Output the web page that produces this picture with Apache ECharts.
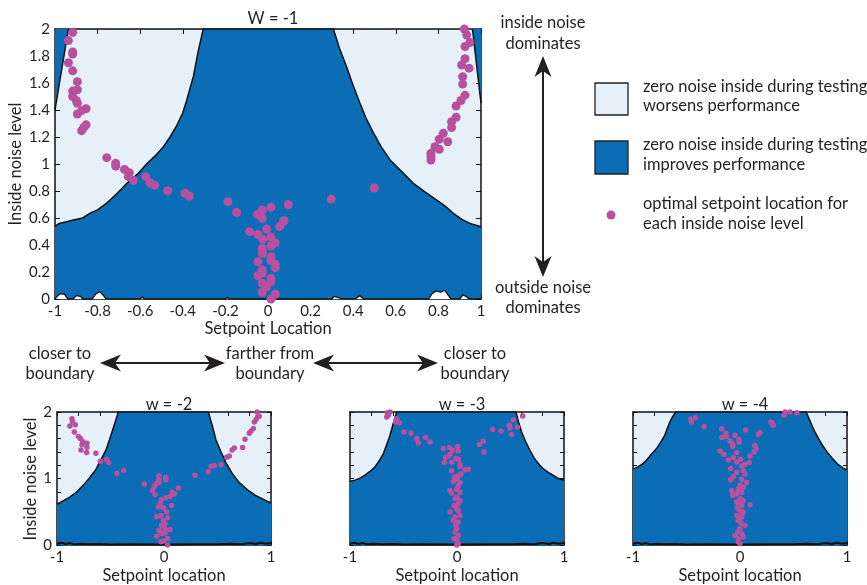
<!DOCTYPE html>
<html><head><meta charset="utf-8">
<script src="https://cdn.jsdelivr.net/npm/echarts@6/dist/echarts.min.js"></script>
<style>html,body{margin:0;padding:0;background:#fff}#c{width:867px;height:585px}</style>
</head><body><div id="c"></div>
<script>
// ---------- data ----------
const titles = ['W = -1', 'w = -2', 'w = -3', 'w = -4'];
const xName = ['Setpoint Location', 'Setpoint location', 'Setpoint location', 'Setpoint location'];
const yName = 'Inside noise level';

// boundary of the "improves performance" region (x, inside noise level)
const boundaryW1 = [[-1,0.54],[-0.98,0.56],[-0.95,0.57],[-0.914,0.585],[-0.87,0.60],[-0.836,0.635],[-0.80,0.66],[-0.757,0.71],[-0.71,0.78],[-0.66,0.86],[-0.61,0.93],[-0.57,1.0],[-0.53,1.06],[-0.49,1.13],[-0.46,1.2],[-0.43,1.28],[-0.40,1.38],[-0.382,1.47],[-0.35,1.65],[-0.327,1.84],[-0.304,2],
  [0.307,2],[0.335,1.86],[0.369,1.72],[0.40,1.58],[0.432,1.45],[0.46,1.34],[0.495,1.23],[0.53,1.13],[0.573,1.03],[0.63,0.94],[0.682,0.857],[0.74,0.79],[0.792,0.733],[0.83,0.69],[0.87,0.635],[0.91,0.59],[0.948,0.56],[1,0.535]];
const stripLeftW1 = [[-1,1.4],[-0.937,2]];
const stripRightW1 = [[0.96,2],[1,1.45]];
const bottomBlobsW1 = [[-1,0],[-0.99,0.02],[-0.975,0.04],[-0.955,0.035],[-0.94,0],[-0.915,0],[-0.9,0.025],[-0.88,0.02],[-0.87,0],[-0.825,0],[-0.81,0.035],[-0.79,0.055],[-0.775,0.03],[-0.76,0],[-0.6,0],[-0.59,0.015],[-0.58,0],[-0.2,0],[-0.19,0.012],[-0.18,0],[0.3,0],[0.31,0.02],[0.33,0.01],[0.35,0],[0.41,0],[0.43,0.025],[0.45,0],[0.755,0],[0.77,0.04],[0.79,0.06],[0.81,0.05],[0.83,0.065],[0.845,0.03],[0.86,0],[0.9,0],[0.915,0.03],[0.93,0.02],[0.945,0],[1,0]];

const boundaryW2 = [[-1,0.617],[-0.978,0.632],[-0.935,0.67],[-0.885,0.716],[-0.82,0.79],[-0.76,0.889],[-0.70,1.0],[-0.636,1.136],[-0.59,1.28],[-0.542,1.43],[-0.51,1.58],[-0.48,1.73],[-0.45,1.88],[-0.427,2],
  [0.414,2],[0.45,1.8],[0.486,1.58],[0.53,1.41],[0.579,1.235],[0.64,1.07],[0.704,0.938],[0.78,0.83],[0.86,0.74],[0.953,0.667],[1,0.632]];
const boundaryW3 = [[-1,0.96],[-0.953,0.975],[-0.90,1.01],[-0.86,1.05],[-0.81,1.11],[-0.766,1.175],[-0.726,1.27],[-0.688,1.375],[-0.655,1.52],[-0.626,1.65],[-0.595,1.83],[-0.564,2],
  [0.551,2],[0.575,1.85],[0.604,1.70],[0.64,1.56],[0.682,1.425],[0.72,1.31],[0.76,1.225],[0.81,1.14],[0.869,1.075],[0.947,1.0],[1,0.975]];
const boundaryW4 = [[-1,1.14],[-0.953,1.175],[-0.91,1.22],[-0.875,1.275],[-0.83,1.36],[-0.78,1.45],[-0.74,1.55],[-0.703,1.65],[-0.68,1.75],[-0.656,1.85],[-0.63,1.93],[-0.6,2],
  [0.619,2],[0.645,1.90],[0.672,1.80],[0.70,1.70],[0.734,1.60],[0.77,1.50],[0.813,1.40],[0.86,1.31],[0.906,1.225],[0.969,1.15],[1,1.125]];
const bottomNoise = [[-1,0.02],[-0.96,0.035],[-0.92,0.015],[-0.88,0.03],[-0.84,0.01],[-0.78,0.02],[-0.7,0.01],[-0.6,0.015],[-0.5,0.008],[-0.3,0.01],[0,0.008],[0.3,0.01],[0.5,0.012],[0.62,0.02],[0.72,0.012],[0.8,0.03],[0.86,0.015],[0.9,0.035],[0.95,0.02],[1,0.03]];

// optimal setpoint locations
const pointsW1 = [[-0.917,1.975],[-0.937,1.914],[-0.917,1.83],[-0.917,1.815],[-0.937,1.75],[-0.917,1.69],[-0.895,1.61],[-0.895,1.55],[-0.917,1.54],[-0.917,1.50],[-0.90,1.47],[-0.895,1.45],[-0.854,1.41],[-0.875,1.395],[-0.895,1.37],[-0.854,1.29],[-0.865,1.27],[-0.875,1.247],
  [-0.757,1.047],[-0.715,1.005],[-0.715,0.985],[-0.674,0.96],[-0.651,0.936],[-0.656,0.906],[-0.632,0.88],
  [-0.574,0.906],[-0.554,0.862],[-0.532,0.842],[-0.471,0.802],[-0.39,0.783],[-0.369,0.763],
  [-0.188,0.721],[-0.147,0.642],[-0.086,0.499],
  [-0.049,0.625],[-0.027,0.659],[-0.027,0.598],[0.014,0.679],[0.095,0.70],[-0.006,0.518],[0.075,0.58],[0.072,0.573],[0.055,0.536],
  [-0.047,0.479],[-0.025,0.442],[0.014,0.457],[0.034,0.417],[0.014,0.393],[-0.027,0.375],[-0.027,0.338],[-0.027,0.355],[0.014,0.313],[0.014,0.284],[-0.047,0.276],[0.034,0.257],[0.034,0.232],[-0.027,0.215],[-0.027,0.19],[-0.047,0.173],[0.014,0.153],[0.014,0.128],[-0.027,0.116],[-0.006,0.091],[-0.027,0.05],[0.034,0.035],[0.014,0],
  [0.297,0.74],[0.499,0.822],
  [0.922,2.0],[0.933,1.955],[0.948,1.90],[0.925,1.87],[0.925,1.78],[0.909,1.733],[0.944,1.71],[0.914,1.647],[0.914,1.593],[0.925,1.51],[0.906,1.47],[0.883,1.43],[0.883,1.346],[0.862,1.313],[0.862,1.27],[0.823,1.227],[0.804,1.183],[0.844,1.165],[0.784,1.128],[0.804,1.109],[0.765,1.079],[0.765,1.055],[0.765,1.03]];

const pointsW2 = [[-0.86,1.90],[-0.854,1.85],[-0.879,1.79],[-0.829,1.81],[-0.838,1.70],[-0.80,1.63],[-0.782,1.60],[-0.76,1.556],[-0.72,1.53],[-0.766,1.506],[-0.72,1.47],[-0.776,1.43],[-0.723,1.39],[-0.636,1.38],[-0.595,1.26],[-0.536,1.284],[-0.517,1.235],[-0.44,1.077],[-0.377,1.12],[-0.184,0.918],
  [-0.047,1.04],[-0.047,0.99],[-0.047,0.94],[0.016,1.018],[0.016,0.98],[-0.068,0.93],[-0.09,0.88],[-0.109,0.82],[-0.084,0.76],
  [0.134,0.858],[0.078,0.794],[0.096,0.77],[0.056,0.73],[0.072,0.594],
  [0.016,0.709],[-0.022,0.68],[-0.037,0.62],[-0.006,0.56],[-0.053,0.57],[0.025,0.495],[-0.028,0.445],[-0.068,0.43],[0.034,0.41],[-0.006,0.37],[0.009,0.32],[-0.022,0.296],[-0.047,0.22],[0.009,0.246],[0.056,0.231],[-0.022,0.172],[-0.068,0.131],[0.009,0.182],[0.034,0.097],[-0.006,0.062],[-0.028,0.048],[0.034,0],
  [0.29,1.05],[0.414,1.10],[0.44,1.185],[0.47,1.195],[0.533,1.21],[0.586,1.318],[0.61,1.34],[0.636,1.43],[0.657,1.457],[0.735,1.467],[0.757,1.59],[0.797,1.68],[0.813,1.714],[0.835,1.753],[0.844,1.85],[0.86,1.886],[0.875,1.926],[0.89,1.936],[0.87,2.0]];

const pointsW3 = [[-0.651,1.99],[-0.642,1.95],[-0.657,1.925],[-0.626,2.0],[-0.564,1.9],[-0.573,1.85],[-0.539,1.84],[-0.495,1.70],[-0.43,1.685],[-0.377,1.60],[-0.361,1.535],[-0.293,1.615],[-0.252,1.55],
  [-0.128,1.45],[-0.072,1.465],[-0.04,1.425],[0.006,1.48],[0.012,1.415],[-0.065,1.366],[-0.087,1.33],[-0.106,1.316],[-0.009,1.30],[0.012,1.29],[-0.118,1.24],[-0.05,1.245],[0.028,1.216],[0.028,1.18],[0.075,1.13],[0.106,1.14],[-0.05,1.117],[0.037,1.067],[0.012,1.04],[-0.025,1.018],[-0.003,0.99],[-0.034,0.95],[0.028,0.94],[0.012,0.89],[-0.003,0.84],[-0.065,0.82],[-0.05,0.78],
  [0.028,0.794],[-0.003,0.72],[0.028,0.669],[-0.019,0.694],[0.012,0.62],[-0.025,0.594],[-0.003,0.545],[-0.065,0.495],[0.012,0.52],[0.028,0.445],[-0.019,0.42],[-0.034,0.37],[0.012,0.346],[-0.012,0.296],[-0.003,0.246],[-0.019,0.197],[0.012,0.146],[-0.025,0.097],[-0.003,0.072],[0.012,0.022],[-0.003,0],
  [0.209,1.51],[0.246,1.56],[0.252,1.40],[0.333,1.735],[0.411,1.715],[0.489,1.80],[0.495,1.76],[0.511,1.66],[0.526,1.885],[0.564,1.775],[0.614,1.94]];

const pointsW4 = [[-0.453,1.85],[-0.416,1.915],[-0.459,1.89],[-0.336,1.78],
  [-0.171,1.75],[-0.131,1.68],[-0.171,1.615],[-0.131,1.63],[-0.047,1.65],[0.053,1.73],[-0.093,1.565],[-0.068,1.515],[-0.068,1.48],[-0.009,1.59],[-0.009,1.55],[-0.187,1.415],[-0.15,1.366],[-0.031,1.39],[-0.063,1.316],[0.006,1.29],[-0.109,1.28],
  [0.14,1.50],[0.15,1.45],[0.131,1.40],[0.093,1.34],[0.087,1.24],[0.187,1.69],[0.171,1.66],[0.29,1.85],[0.311,1.80],[0.30,1.83],[0.413,1.95],[0.422,2.0],[0.469,2.0],[0.531,1.99],
  [-0.031,1.25],[0.016,1.19],[0.047,1.216],[-0.087,1.15],[-0.031,1.09],[0.031,1.117],[0.047,1.067],[-0.063,1.03],[0.016,0.99],[-0.087,0.98],[0.062,0.94],[0,0.90],[0.031,0.87],[-0.016,0.843],[-0.078,0.818],[-0.031,0.77],[0.016,0.794],[-0.068,0.744],[0,0.694],[0.031,0.669],[-0.031,0.645],[0.016,0.594],[-0.025,0.555],[0,0.52],[0.031,0.495],[-0.031,0.445],[0.016,0.42],[-0.016,0.37],[0.047,0.296],[0,0.246],[0.016,0.172],[-0.047,0.147],[-0.016,0.097],[0.031,0.122],[0,0.022],[0.093,0.604],[-0.016,0.05],[0.01,0.33],[-0.02,0.2],[0.02,0.47],[-0.01,0.62]];

// ---------- layout ----------
const DARK = '#0a6db6', LIGHT = '#e5f0f9', PINK = '#b9509f', INK = '#231f20', FONT = 'Lato';
const grids = [
  {left:55, top:29, width:426, height:270},
  {left:57, top:412, width:214, height:134},
  {left:350, top:412, width:214, height:134},
  {left:633, top:412, width:214, height:134}
];
const boundaries = [boundaryW1, boundaryW2, boundaryW3, boundaryW4];
const points = [pointsW1, pointsW2, pointsW3, pointsW4];

const fmt1 = v => String(Math.round(v * 10) / 10);
const fmtInt = v => { const r = Math.round(v * 10) / 10; return (r % 1 === 0) ? String(r) : ''; };

const xAxis = [], yAxis = [], series = [], title = [];
grids.forEach((g, i) => {
  const main = i === 0;
  const tickLen = main ? 5 : 4;
  const lineStyle = {color: '#111', width: 1.5};
  const common = {type: 'value', gridIndex: i, interval: 0.2, splitLine: {show: false},
    axisLine: {show: true, onZero: false, lineStyle},
    axisTick: {show: true, inside: true, length: tickLen, lineStyle: {color: '#111', width: 1}}};
  xAxis.push(Object.assign({}, common, {min: -1, max: 1, position: 'bottom',
    name: xName[i], nameLocation: 'middle', nameGap: main ? 20 : 22,
    nameTextStyle: {fontFamily: FONT, fontSize: 16.5, color: INK},
    axisLabel: {fontFamily: FONT, fontSize: 15, color: INK, margin: 5, formatter: main ? fmt1 : fmtInt}}));
  xAxis.push(Object.assign({}, common, {min: -1, max: 1, position: 'top', axisLabel: {show: false}}));
  yAxis.push(Object.assign({}, common, {min: 0, max: 2, position: 'left',
    name: main ? yName : '', nameLocation: 'middle', nameGap: 31,
    nameTextStyle: {fontFamily: FONT, fontSize: 16.5, color: INK},
    axisLabel: {show: i <= 1, fontFamily: FONT, fontSize: 15, color: INK, margin: 5, formatter: main ? fmt1 : fmtInt}}));
  yAxis.push(Object.assign({}, common, {min: 0, max: 2, position: 'right', axisLabel: {show: false}}));

  const ax = {xAxisIndex: 2 * i, yAxisIndex: 2 * i};
  series.push(Object.assign({type: 'line', data: boundaries[i], symbol: 'none', silent: true, z: 2,
    lineStyle: {color: '#111', width: 1.5}, areaStyle: {color: DARK, opacity: 1}}, ax));
  if (main) {
    [stripLeftW1, stripRightW1].forEach(s => series.push(Object.assign({type: 'line', data: s, symbol: 'none', silent: true, z: 2,
      lineStyle: {color: '#111', width: 1.5}, areaStyle: {color: DARK, opacity: 1, origin: 'end'}}, ax)));
    series.push(Object.assign({type: 'line', data: bottomBlobsW1, symbol: 'none', silent: true, z: 3,
      lineStyle: {color: '#111', width: 1.3}, areaStyle: {color: '#ffffff', opacity: 1}}, ax));
  } else {
    series.push(Object.assign({type: 'line', data: bottomNoise, symbol: 'none', silent: true, z: 3,
      lineStyle: {color: '#111', width: 2}}, ax));
  }
  series.push(Object.assign({type: 'scatter', data: points[i], symbol: 'circle', symbolSize: main ? 9 : 5.5, z: 5, clip: false,
    itemStyle: {color: PINK, opacity: 1}}, ax));

  title.push({text: titles[i], left: g.left + g.width / 2, top: g.top - (main ? 24 : 21), textAlign: 'center',
    textStyle: {fontFamily: FONT, fontSize: 16.5, fontWeight: 'normal', color: INK}});
});

// ---------- annotations ----------
function txt(x, y, s, align, size) {
  return {type: 'text', x: x, y: y, style: {text: s, fontFamily: FONT, fontSize: size || 16.5, fill: INK, textAlign: align || 'center', textVerticalAlign: 'middle'}};
}
function hArrow(x1, x2, y) {
  return [
    {type: 'line', shape: {x1: x1 + 10, y1: y, x2: x2 - 10, y2: y}, style: {stroke: INK, lineWidth: 2}},
    {type: 'polygon', shape: {points: [[x1, y], [x1 + 21, y - 8.5], [x1 + 15, y], [x1 + 21, y + 8.5]]}, style: {fill: INK}},
    {type: 'polygon', shape: {points: [[x2, y], [x2 - 21, y - 8.5], [x2 - 15, y], [x2 - 21, y + 8.5]]}, style: {fill: INK}}
  ];
}
function vArrow(x, y1, y2) {
  return [
    {type: 'line', shape: {x1: x, y1: y1 + 10, x2: x, y2: y2 - 10}, style: {stroke: INK, lineWidth: 2}},
    {type: 'polygon', shape: {points: [[x, y1], [x - 8.5, y1 + 21], [x, y1 + 15], [x + 8.5, y1 + 21]]}, style: {fill: INK}},
    {type: 'polygon', shape: {points: [[x, y2], [x - 8.5, y2 - 21], [x, y2 - 15], [x + 8.5, y2 - 21]]}, style: {fill: INK}}
  ];
}
const bottomYName = txt(31, 479, yName);
bottomYName.rotation = Math.PI / 2;
const graphic = [
  bottomYName,
  txt(543, 23, 'inside noise'), txt(543, 44, 'dominates'),
  txt(543, 288, 'outside noise'), txt(543, 308, 'dominates'),
  ...vArrow(543, 56, 277),
  txt(60, 354, 'closer to'), txt(60, 374, 'boundary'),
  ...hArrow(100, 225, 363),
  txt(270, 354, 'farther from'), txt(270, 374, 'boundary'),
  ...hArrow(313, 438, 363),
  txt(475, 354, 'closer to'), txt(475, 374, 'boundary'),
  {type: 'rect', shape: {x: 595, y: 83, width: 33, height: 32}, style: {fill: LIGHT, stroke: '#222', lineWidth: 1.3}},
  {type: 'rect', shape: {x: 595, y: 141, width: 33, height: 33}, style: {fill: DARK, stroke: '#222', lineWidth: 1.3}},
  {type: 'circle', shape: {cx: 611, cy: 215, r: 4.5}, style: {fill: PINK}},
  txt(643, 87, 'zero noise inside during testing', 'left'), txt(643, 106, 'worsens performance', 'left'),
  txt(643, 145, 'zero noise inside during testing', 'left'), txt(643, 165, 'improves performance', 'left'),
  txt(643, 204, 'optimal setpoint location for', 'left'), txt(643, 224, 'each inside noise level', 'left')
];

const chart = echarts.init(document.getElementById('c'), null, {renderer: 'canvas'});
chart.setOption({
  animation: false,
  backgroundColor: '#ffffff',
  grid: grids.map(g => Object.assign({show: true, backgroundColor: LIGHT, borderWidth: 0}, g)),
  title, xAxis, yAxis, series, graphic
});
</script></body></html>
